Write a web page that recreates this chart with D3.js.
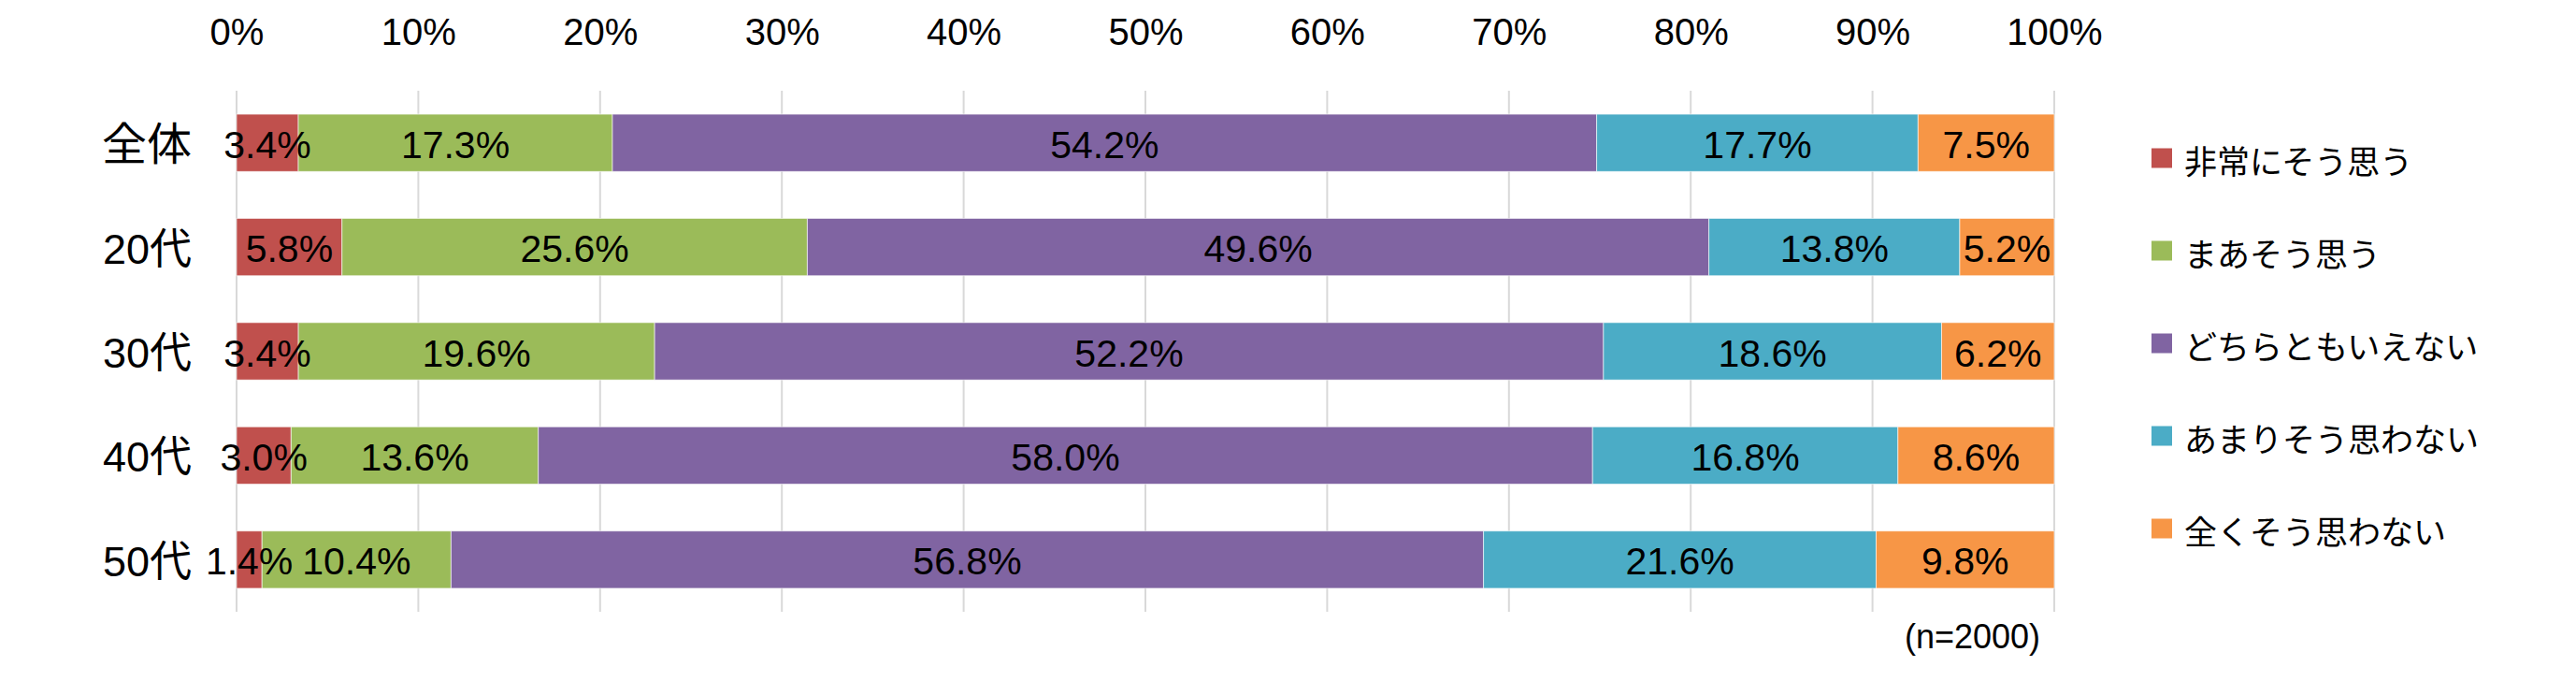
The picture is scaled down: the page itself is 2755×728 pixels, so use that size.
<!DOCTYPE html>
<html><head><meta charset="utf-8">
<script src="https://cdn.jsdelivr.net/npm/d3@7/dist/d3.min.js"></script>
<style>html,body{margin:0;padding:0;background:#fff;}</style>
</head><body>
<svg id="chart" width="2755" height="728"></svg>
<script>
const categories = ["全体", "20代", "30代", "40代", "50代"];
const seriesNames = ["非常にそう思う", "まあそう思う", "どちらともいえない", "あまりそう思わない", "全くそう思わない"];
const seriesColors = ["#C0504D", "#9BBB59", "#8064A2", "#4BACC6", "#F79646"];
const hijouni = [3.4, 5.8, 3.4, 3.0, 1.4];
const maa = [17.3, 25.6, 19.6, 13.6, 10.4];
const dochira = [54.2, 49.6, 52.2, 58.0, 56.8];
const amari = [17.7, 13.8, 18.6, 16.8, 21.6];
const mattaku = [7.5, 5.2, 6.2, 8.6, 9.8];
const tickValues = [0, 0.1, 0.2, 0.3, 0.4, 0.5, 0.6, 0.7, 0.8, 0.9, 1.0];
const noteText = "(n=2000)";

const seriesValues = [hijouni, maa, dochira, amari, mattaku];
const rows = categories.map((c, i) => {
  const r = {cat: c};
  seriesNames.forEach((s, j) => r[s] = seriesValues[j][i]);
  return r;
});

const svg = d3.select("#chart");
const latin = "'Liberation Sans', 'Noto Sans CJK JP', sans-serif";
const cjk = "'Noto Sans CJK JP', sans-serif";

const x = d3.scaleLinear().domain([0, 1]).range([253, 2197]);
const y = d3.scaleBand().domain(categories).range([97, 654]).paddingInner(0.45).paddingOuter(0.225);

// gridlines
svg.append("g").selectAll("line").data(tickValues).join("line")
  .attr("x1", d => x(d)).attr("x2", d => x(d))
  .attr("y1", 97).attr("y2", 654)
  .attr("stroke", "#d9d9d9").attr("stroke-width", 2);

// top axis labels
const axis = d3.axisTop(x).tickValues(tickValues).tickFormat(d3.format(".0%")).tickSize(0).tickPadding(49);
const ag = svg.append("g").attr("transform", "translate(0,97)").call(axis);
ag.select(".domain").remove();
ag.selectAll("text").attr("font-family", latin).attr("font-size", 40).attr("fill", "#000");

// stacked bars
const stack = d3.stack().keys(seriesNames).offset(d3.stackOffsetExpand);
const layers = stack(rows);

const lg = svg.append("g").selectAll("g").data(layers).join("g")
  .attr("fill", (d, i) => seriesColors[i]);
lg.selectAll("rect").data(d => d).join("rect")
  .attr("x", d => x(d[0]))
  .attr("width", d => x(d[1]) - x(d[0]))
  .attr("y", d => y(d.data.cat))
  .attr("height", y.bandwidth())
  .attr("stroke", "#ffffff").attr("stroke-width", 1).attr("stroke-opacity", 0.6);

// data labels
const tg = svg.append("g");
layers.forEach((layer, i) => {
  tg.selectAll(null).data(layer).join("text")
    .attr("x", d => (x(d[0]) + x(d[1])) / 2)
    .attr("y", d => y(d.data.cat) + y.bandwidth() / 2 + 2)
    .attr("text-anchor", "middle").attr("dominant-baseline", "central")
    .attr("font-family", latin).attr("font-size", 41).attr("fill", "#000")
    .text(d => d.data[layer.key].toFixed(1) + "%");
});

// category labels
svg.append("g").selectAll("text").data(categories).join("text")
  .attr("x", 205)
  .attr("y", d => y(d) + y.bandwidth() / 2 + 2)
  .attr("text-anchor", "end").attr("dominant-baseline", "central")
  .attr("font-family", latin).attr("font-size", d => d === "全体" ? 48 : 45).attr("fill", "#000")
  .text(d => d);

// legend
const legY = d3.scalePoint().domain(seriesNames).range([169, 565]);
const leg = svg.append("g").selectAll("g").data(seriesNames).join("g")
  .attr("transform", d => `translate(2301,${legY(d)})`);
leg.append("rect").attr("x", 0).attr("y", -10.5).attr("width", 22).attr("height", 21)
  .attr("fill", (d, i) => seriesColors[i]);
leg.append("text").attr("x", 35).attr("y", 1).attr("dominant-baseline", "central")
  .attr("font-family", cjk).attr("font-size", 35).attr("fill", "#000").text(d => d);

// note
svg.append("text").attr("x", 2182).attr("y", 680).attr("text-anchor", "end")
  .attr("dominant-baseline", "central")
  .attr("font-family", latin).attr("font-size", 36).attr("fill", "#000").text(noteText);
</script>
</body></html>
